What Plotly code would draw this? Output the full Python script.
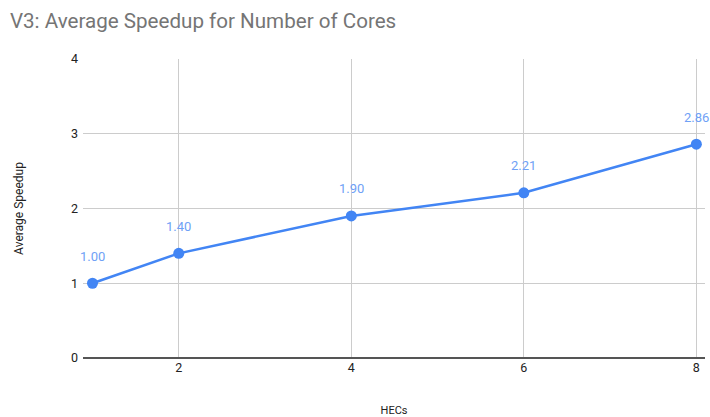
import plotly.graph_objects as go

cores = [1, 2, 4, 6, 8]
speedup = [1.00, 1.40, 1.90, 2.21, 2.86]
labels = ["1.00", "1.40", "1.90", "2.21", "2.86"]
xticks = [2, 4, 6, 8]
yticks = [0, 1, 2, 3, 4]

blue = "#4285f4"
fig = go.Figure()
fig.add_trace(go.Scatter(
    x=cores, y=speedup, mode="lines+markers",
    line=dict(color=blue, width=2.5),
    marker=dict(color=blue, size=11),
    cliponaxis=False, hoverinfo="skip", showlegend=False,
))
for x, y, t in zip(cores, speedup, labels):
    fig.add_annotation(x=x, y=y, text=t, showarrow=False, yshift=27,
                       font=dict(family="Roboto", size=13, color="#6fa1f6"))

fig.update_layout(
    width=710, height=417,
    margin=dict(l=83, r=5, t=59, b=59, autoexpand=False),
    paper_bgcolor="white", plot_bgcolor="white",
    font=dict(family="Roboto", color="#222222", size=12),
    title=dict(text="V3: Average Speedup for Number of Cores", x=0.014, xanchor="left",
               y=0.95, yanchor="middle",
               font=dict(family="Roboto", size=20.6, color="#757575")),
    xaxis=dict(range=[0.89, 8.1], tickvals=xticks, showgrid=True, gridcolor="#cccccc",
               gridwidth=1, zeroline=False, showline=False, ticks="", automargin=False,
               title=dict(text="HECs", font=dict(size=11, color="#222222"), standoff=32),
               tickfont=dict(size=12.5, color="#222222")),
    yaxis=dict(range=[0, 4], tickvals=yticks, showgrid=True, gridcolor="#cccccc",
               gridwidth=1, zeroline=True, zerolinecolor="#555555", zerolinewidth=1.5,
               showline=False, ticks="", ticklabelstandoff=4, automargin=False,
               title=dict(text="Average Speedup", font=dict(size=12, color="#222222"), standoff=44),
               tickfont=dict(size=12.5, color="#222222")),
)
fig.write_html("out.html", config={"displayModeBar": False},
               post_script="document.body.style.margin='0px';")
